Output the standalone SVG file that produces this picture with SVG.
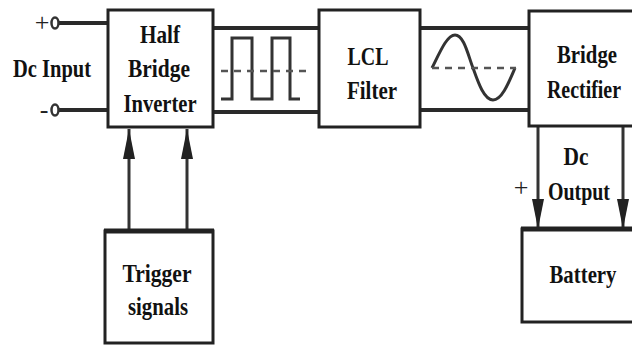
<svg xmlns="http://www.w3.org/2000/svg" width="632" height="346" viewBox="0 0 632 346">
<defs>
<style>
.box{fill:#fff;stroke:#222;stroke-width:3}
.edge{stroke:#222;stroke-width:5}
.wire{stroke:#2a2a2a;stroke-width:4;fill:none}
.thin{stroke:#333;stroke-width:3;fill:none}
.lbl{font-family:"Liberation Serif","Times New Roman",serif;font-weight:bold;font-size:26px;fill:#111;text-anchor:middle}
.sym{font-family:"Liberation Serif","Times New Roman",serif;font-size:26px;fill:#222;text-anchor:middle}
.dash{stroke:#555;stroke-width:2.5;stroke-dasharray:7,6;fill:none}
</style>
<marker id="ah" markerWidth="30" markerHeight="12" refX="30" refY="6" orient="auto" markerUnits="userSpaceOnUse" viewBox="0 0 30 12">
<path d="M0,0 L30,6 L0,12 Z" fill="#222"/>
</marker>
</defs>
<rect width="632" height="346" fill="#fff"/>

<g id="connectors">
  <line class="wire" x1="59" y1="23" x2="107" y2="23"/>
  <line class="wire" x1="59" y1="110" x2="107" y2="110"/>
  <ellipse cx="55" cy="23" rx="3.5" ry="5.5" fill="#fff" stroke="#333" stroke-width="2.5"/>
  <ellipse cx="55" cy="110" rx="3.5" ry="5.5" fill="#fff" stroke="#333" stroke-width="2.5"/>
  <line class="wire" x1="213" y1="28" x2="318" y2="28" stroke-width="5"/>
  <line class="wire" x1="213" y1="112" x2="318" y2="112"/>
  <line class="wire" x1="420" y1="28" x2="529" y2="28" stroke-width="5"/>
  <line class="wire" x1="420" y1="110" x2="529" y2="110"/>
  <line class="thin" x1="129" y1="230" x2="129" y2="129" marker-end="url(#ah)"/>
  <line class="thin" x1="187" y1="230" x2="187" y2="129" marker-end="url(#ah)"/>
  <line class="thin" x1="538" y1="126" x2="538" y2="229" marker-end="url(#ah)"/>
  <line class="thin" x1="623" y1="126" x2="623" y2="229" marker-end="url(#ah)"/>
  <path class="thin" d="M221,99 H232 V38 H252 V99 H272 V38 H290 V99 H300" stroke-width="3"/>
  <line class="dash" x1="221" y1="71" x2="306" y2="71"/>
  <path class="thin" d="M432,68 C440,52 447,35 455,35 C464,35 468,55 473,68 C478,82 484,100 493,100 C502,100 509,82 515,68" stroke-width="2.5"/>
  <line class="dash" x1="432" y1="68" x2="516" y2="68"/>
  <text class="sym" x="42" y="31">+</text>
  <text class="sym" x="44" y="118">-</text>
  <text class="sym" x="521" y="196">+</text>
</g>

<g id="dc-input">
  <text class="lbl" x="52" y="77" textLength="78" lengthAdjust="spacingAndGlyphs">Dc Input</text>
</g>

<g id="half-bridge-inverter">
  <rect class="box" x="108" y="10" width="105" height="117"/>
  <text class="lbl" x="160" y="43" textLength="40" lengthAdjust="spacingAndGlyphs">Half</text>
  <text class="lbl" x="159" y="77" textLength="62" lengthAdjust="spacingAndGlyphs">Bridge</text>
  <text class="lbl" x="160" y="112" textLength="73" lengthAdjust="spacingAndGlyphs">Inverter</text>
</g>

<g id="lcl-filter">
  <rect class="box" x="319" y="10" width="101" height="117"/>
  <text class="lbl" x="368" y="65" textLength="41" lengthAdjust="spacingAndGlyphs">LCL</text>
  <text class="lbl" x="372" y="99" textLength="50" lengthAdjust="spacingAndGlyphs">Filter</text>
</g>

<g id="bridge-rectifier">
  <rect class="box" x="529" y="11" width="110" height="115"/>
  <text class="lbl" x="587" y="63" textLength="60" lengthAdjust="spacingAndGlyphs">Bridge</text>
  <text class="lbl" x="584" y="98" textLength="74" lengthAdjust="spacingAndGlyphs">Rectifier</text>
</g>

<g id="dc-output">
  <text class="lbl" x="576" y="165" textLength="25" lengthAdjust="spacingAndGlyphs">Dc</text>
  <text class="lbl" x="579" y="200" textLength="62" lengthAdjust="spacingAndGlyphs">Output</text>
</g>

<g id="trigger-signals">
  <rect class="box" x="105" y="231" width="108" height="112"/>
  <line class="edge" x1="104" y1="231" x2="214" y2="231"/>
  <text class="lbl" x="157" y="282" textLength="69" lengthAdjust="spacingAndGlyphs">Trigger</text>
  <text class="lbl" x="158" y="315" textLength="60" lengthAdjust="spacingAndGlyphs">signals</text>
</g>

<g id="battery">
  <rect class="box" x="522" y="229" width="117" height="93"/>
  <line class="edge" x1="521" y1="229" x2="632" y2="229"/>
  <text class="lbl" x="583" y="283" textLength="67" lengthAdjust="spacingAndGlyphs">Battery</text>
</g>
</svg>
